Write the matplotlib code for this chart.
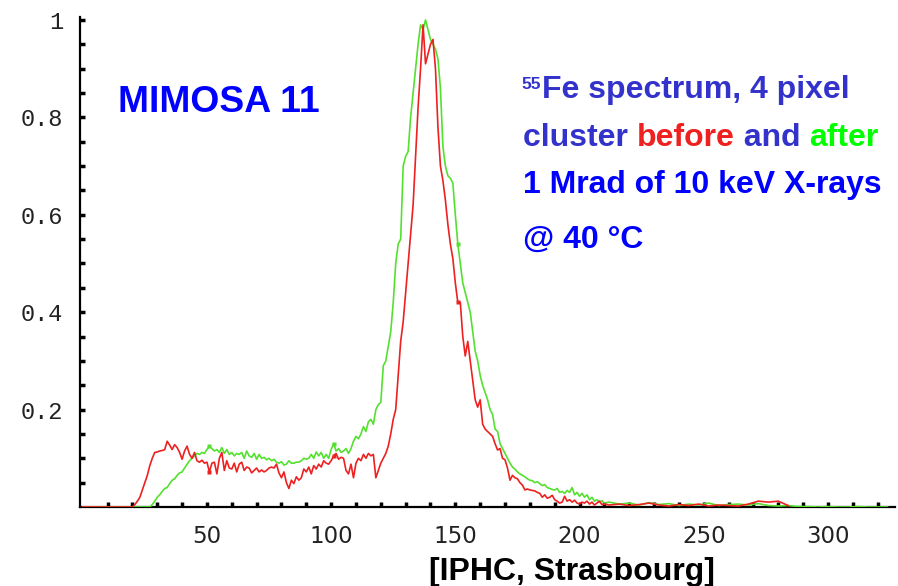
import numpy as np
import matplotlib
matplotlib.use("Agg")
import matplotlib.pyplot as plt

# ---- 55Fe cluster spectra (normalised to peak) ----
# channels 20..210, one value per channel
core_channels = np.arange(20, 211)

before_core = [
    0.0, 0.005, 0.012, 0.02, 0.035, 0.05, 0.065, 0.085, 0.1, 0.112,          # 20-29
    0.113, 0.115, 0.116, 0.118, 0.135, 0.127, 0.118, 0.128, 0.122, 0.112,    # 30-39
    0.098, 0.115, 0.125, 0.108, 0.1, 0.112, 0.095, 0.092, 0.096, 0.09,       # 40-49
    0.092, 0.072, 0.09, 0.092, 0.068, 0.1, 0.112, 0.075, 0.095, 0.08,        # 50-59
    0.078, 0.09, 0.072, 0.088, 0.092, 0.075, 0.082, 0.08, 0.07, 0.075,       # 60-69
    0.08, 0.072, 0.076, 0.072, 0.075, 0.08, 0.082, 0.08, 0.088, 0.07,        # 70-79
    0.06, 0.072, 0.05, 0.038, 0.055, 0.048, 0.062, 0.055, 0.06, 0.078,       # 80-89
    0.072, 0.082, 0.068, 0.085, 0.078, 0.088, 0.082, 0.095, 0.09, 0.088,     # 90-99
    0.095, 0.105, 0.11, 0.098, 0.102, 0.1, 0.075, 0.068, 0.088, 0.06,        # 100-109
    0.09, 0.1, 0.095, 0.108, 0.1, 0.11, 0.105, 0.108, 0.06, 0.075,           # 110-119
    0.09, 0.1, 0.11, 0.125, 0.15, 0.18, 0.2, 0.27, 0.34, 0.38,               # 120-129
    0.44, 0.5, 0.56, 0.62, 0.72, 0.82, 0.9, 0.99, 0.91, 0.93,                # 130-139
    0.95, 0.96, 0.9, 0.78, 0.7, 0.67, 0.63, 0.58, 0.54, 0.51,                # 140-149
    0.46, 0.42, 0.42, 0.35, 0.31, 0.34, 0.3, 0.26, 0.22, 0.205,              # 150-159
    0.22, 0.17, 0.16, 0.155, 0.15, 0.145, 0.13, 0.117, 0.12, 0.1,            # 160-169
    0.097, 0.08, 0.055, 0.065, 0.06, 0.058, 0.05, 0.045, 0.035, 0.037,       # 170-179
    0.035, 0.034, 0.033, 0.03, 0.028, 0.02, 0.025, 0.018, 0.02, 0.024,       # 180-189
    0.015, 0.012, 0.008, 0.01, 0.022, 0.012, 0.015, 0.01, 0.014, 0.008,     # 190-199
    0.006, 0.01, 0.008, 0.012, 0.006, 0.01, 0.004, 0.008, 0.012, 0.005,     # 200-209
    0.006,                                                                   # 210
]

after_core = [
    0.0, 0.0, 0.0, 0.0, 0.0, 0.0, 0.0, 0.0, 0.005, 0.012,                    # 20-29
    0.02, 0.025, 0.032, 0.038, 0.04, 0.048, 0.055, 0.058, 0.065, 0.07,       # 30-39
    0.072, 0.08, 0.088, 0.095, 0.1, 0.105, 0.11, 0.108, 0.112, 0.11,         # 40-49
    0.118, 0.125, 0.12, 0.115, 0.118, 0.112, 0.122, 0.11, 0.118, 0.108,     # 50-59
    0.112, 0.105, 0.11, 0.108, 0.112, 0.1, 0.115, 0.105, 0.102, 0.11,        # 60-69
    0.098, 0.108, 0.1, 0.102, 0.097, 0.1, 0.095, 0.098, 0.092, 0.09,         # 70-79
    0.093, 0.086, 0.088, 0.095, 0.09, 0.09, 0.092, 0.092, 0.095, 0.1,        # 80-89
    0.098, 0.1, 0.108, 0.1, 0.113, 0.105, 0.112, 0.1, 0.108, 0.1,            # 90-99
    0.118, 0.13, 0.115, 0.12, 0.112, 0.115, 0.12, 0.11, 0.12, 0.135,         # 100-109
    0.145, 0.14, 0.15, 0.165, 0.155, 0.175, 0.18, 0.17, 0.2, 0.21,           # 110-119
    0.215, 0.29, 0.3, 0.33, 0.36, 0.42, 0.5, 0.54, 0.55, 0.7,                # 120-129
    0.72, 0.73, 0.8, 0.85, 0.9, 0.95, 0.99, 0.98, 1.0, 0.98,                 # 130-139
    0.96, 0.95, 0.94, 0.92, 0.86, 0.74, 0.7, 0.68, 0.675, 0.665,             # 140-149
    0.6, 0.54, 0.5, 0.46, 0.44, 0.42, 0.4, 0.36, 0.32, 0.3,                  # 150-159
    0.27, 0.25, 0.235, 0.22, 0.2, 0.19, 0.16, 0.155, 0.13, 0.12,             # 160-169
    0.11, 0.1, 0.09, 0.082, 0.078, 0.072, 0.068, 0.065, 0.062, 0.058,        # 170-179
    0.055, 0.054, 0.05, 0.052, 0.048, 0.044, 0.046, 0.04, 0.038, 0.036,      # 180-189
    0.035, 0.038, 0.03, 0.032, 0.028, 0.034, 0.03, 0.04, 0.025, 0.03,       # 190-199
    0.022, 0.028, 0.02, 0.025, 0.015, 0.02, 0.012, 0.015, 0.01, 0.013,      # 200-209
    0.008,                                                                   # 210
]

# sparse tails, one value every 4 channels
before_tail_channels = np.arange(212, 285, 4)
before_tail = [0.004, 0.006, 0.003, 0.005, 0.008, 0.004, 0.002, 0.005, 0.003,
               0.006, 0.002, 0.004, 0.003, 0.002, 0.006, 0.012, 0.01, 0.012,
               0.003]
after_tail_channels = np.arange(212, 325, 4)
after_tail = [0.01, 0.006, 0.008, 0.004, 0.009, 0.005, 0.007, 0.003, 0.006,
              0.004, 0.008, 0.003, 0.005, 0.006, 0.004, 0.007, 0.003, 0.002,
              0.003, 0.001, 0.001, 0.0, 0.001, 0.0, 0.0, 0.001, 0.0, 0.0, 0.0]

before_x = np.concatenate([[0], core_channels, before_tail_channels])
before_y = np.concatenate([[0.0], before_core, before_tail])
after_x = np.concatenate([[0], core_channels, after_tail_channels])
after_y = np.concatenate([[0.0], after_core, after_tail])

marker_channels = [51, 101, 151]

x_major = [50, 100, 150, 200, 250, 300]
y_major = [0.2, 0.4, 0.6, 0.8, 1.0]
y_labels = ["0.2", "0.4", "0.6", "0.8", "1"]

RED = "#ee2020"
GREEN = "#55e030"

fig = plt.figure(figsize=(8.98, 5.86), dpi=100)
ax = fig.add_axes([80 / 898, 79 / 586, 815 / 898, 489.5 / 586])

ax.plot(after_x, after_y, color=GREEN, lw=1.2, zorder=3)
ax.plot(before_x, before_y, color=RED, lw=1.2, zorder=4)

def mark(xs, ys, color):
    idx = [int(np.where(xs == c)[0][0]) for c in marker_channels]
    ax.plot(xs[idx], ys[idx], ls="none", marker="s", ms=3.4,
            color=color, mec="none", zorder=5)

mark(after_x, after_y, GREEN)
mark(before_x, before_y, RED)

ax.set_xlim(-1.1, 327)
ax.set_ylim(0, 1.005)

for s in ("top", "right"):
    ax.spines[s].set_visible(False)
for s in ("left", "bottom"):
    ax.spines[s].set_linewidth(1.6)
    ax.spines[s].set_color("black")
    ax.spines[s].set_zorder(2)

ax.set_xticks(x_major)
ax.set_xticks(np.arange(10, 330, 10), minor=True)
ax.set_yticks(y_major)
ax.set_yticklabels(y_labels)
ax.set_yticks(np.arange(0.05, 1.0, 0.05), minor=True)

ax.tick_params(which="both", direction="in", length=3.5, width=2.5, color="black")
ax.tick_params(axis="x", which="major", labelsize=16.5, pad=13, labelcolor="#222222")
ax.tick_params(axis="y", which="major", labelsize=17, pad=12, labelcolor="#222222")
for lab in ax.get_yticklabels():
    lab.set_fontfamily("Liberation Mono")
for lab in ax.get_xticklabels():
    lab.set_fontfamily("DejaVu Sans")

# ---- annotations (positions in pixels from the top-left corner) ----
renderer = fig.canvas.get_renderer()

def px(x, y):
    return (x / 898, 1 - y / 586)

def run(x, y, pieces, fs, **extra):
    """Draw consecutive coloured words on one baseline."""
    for text, color in pieces:
        t = fig.text(*px(x, y), text, color=color, fontsize=fs,
                     fontweight="bold", family="Liberation Sans",
                     va="baseline", ha="left", **extra)
        x += t.get_window_extent(renderer).width

fig.text(*px(118, 112), "MIMOSA 11", color="#0000ff", fontsize=26.8,
         fontweight="bold", family="Liberation Sans", va="baseline", ha="left")

SLATE = "#3333cc"
BLUE = "#0000ff"
FS = 23

fig.text(*px(541, 89), "55", color=SLATE, fontsize=12.5, fontweight="bold",
         family="Liberation Sans", va="baseline", ha="right")
run(542, 98, [("Fe spectrum, 4 pixel", SLATE)], FS)
run(523, 145.5, [("cluster ", SLATE), ("before", RED), (" and ", SLATE),
                 ("after", "#00ff00")], FS)
run(523, 193, [("1 Mrad of 10 keV X-rays", BLUE)], FS)
run(523, 248, [("@ 40 °C", BLUE)], FS)

fig.text(*px(572, 580), "[IPHC, Strasbourg]", color="black", ha="center",
         va="baseline", fontsize=FS, fontweight="bold", family="Liberation Sans")

fig.savefig("out.png", dpi=100, facecolor="white")
